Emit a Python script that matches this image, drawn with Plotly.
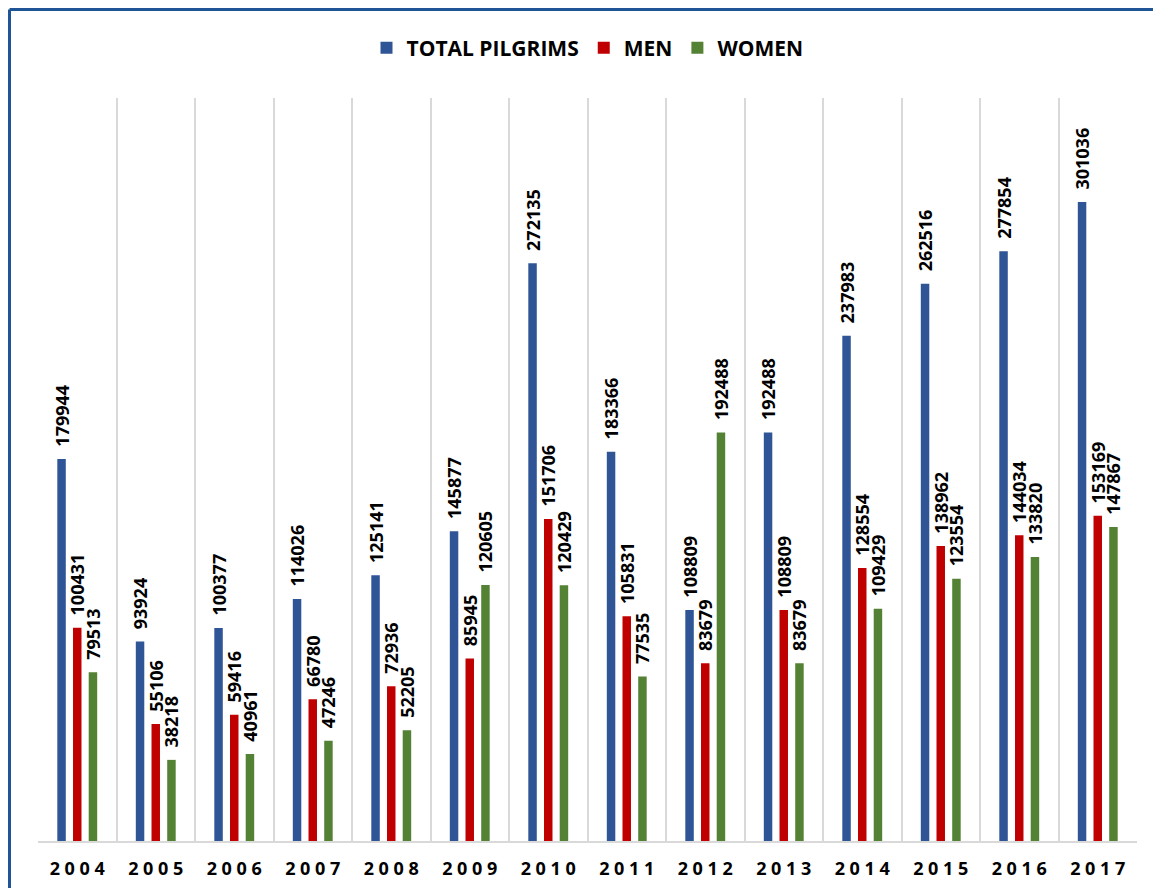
import plotly.graph_objects as go

years = ["2004", "2005", "2006", "2007", "2008", "2009", "2010",
         "2011", "2012", "2013", "2014", "2015", "2016", "2017"]
total = [179944, 93924, 100377, 114026, 125141, 145877, 272135,
         183366, 108809, 192488, 237983, 262516, 277854, 301036]
men = [100431, 55106, 59416, 66780, 72936, 85945, 151706,
       105831, 83679, 108809, 128554, 138962, 144034, 153169]
women = [79513, 38218, 40961, 47246, 52205, 120605, 120429,
         77535, 192488, 83679, 109429, 123554, 133820, 147867]
year_ticks = [" ".join(y) for y in years]

series = [
    ("TOTAL PILGRIMS", total, "#2F5597", -0.2),
    ("MEN", men, "#C00000", 0.0),
    ("WOMEN", women, "#548235", 0.2),
]

W, H = 1153, 888
ML, MR, MT, MB = 38, 16, 98, 47
PW, PH = W - ML - MR, H - MT - MB

BAR_W = 0.108
fig = go.Figure()
for name, vals, color, center in series:
    fig.add_trace(go.Bar(
        name=name, x=years, y=vals,
        marker=dict(color=color, line=dict(width=0)),
        width=BAR_W, offset=center - BAR_W / 2,
        text=["\u00a0\u00a0" + str(v) for v in vals], textposition="outside",
        textangle=-90, constraintext="none", cliponaxis=False,
        textfont=dict(family="Open Sans", size=18, color="#000000", weight="bold"),
        hoverinfo="x+y",
    ))

bx0 = (9.5 - ML) / PW
by1 = 1 + (MT - 9.5) / PH
border = dict(color="#1F5597", width=3)

fig.update_layout(
    width=W, height=H,
    barmode="overlay",
    paper_bgcolor="white", plot_bgcolor="white",
    margin=dict(l=ML, r=MR, t=MT, b=MB),
    font=dict(family="Open Sans", color="#000000"),
    legend=dict(
        orientation="h", x=0.5, xanchor="center", y=1 + (MT - 48) / PH, yanchor="middle",
        font=dict(family="Open Sans", size=21, color="#000000", weight="bold"),
        traceorder="normal", itemclick=False,
    ),
    xaxis=dict(
        type="category", tickmode="array", tickvals=years, ticktext=year_ticks,
        tickson="boundaries", showgrid=True, gridcolor="#D9D9D9", gridwidth=2,
        showline=True, linecolor="#D9D9D9", linewidth=2,
        ticks="", ticklabelstandoff=10, automargin=False,
        tickfont=dict(family="Open Sans", size=18, color="#000000", weight="bold"),
        range=[-0.5, len(years) - 0.5], zeroline=False,
    ),
    yaxis=dict(
        range=[0, 350000], showgrid=False, showticklabels=False,
        zeroline=False, showline=False, ticks="", automargin=False,
    ),
    shapes=[
        dict(type="line", xref="paper", yref="paper",
             x0=bx0, x1=bx0, y0=-0.2, y1=by1, line=border, layer="above"),
        dict(type="line", xref="paper", yref="paper",
             x0=bx0, x1=1.2, y0=by1, y1=by1, line=border, layer="above"),
    ],
)

fig.write_html(
    "out.html",
    config={"displayModeBar": False},
    post_script="document.body.style.margin='0';document.body.style.overflow='hidden';",
)
